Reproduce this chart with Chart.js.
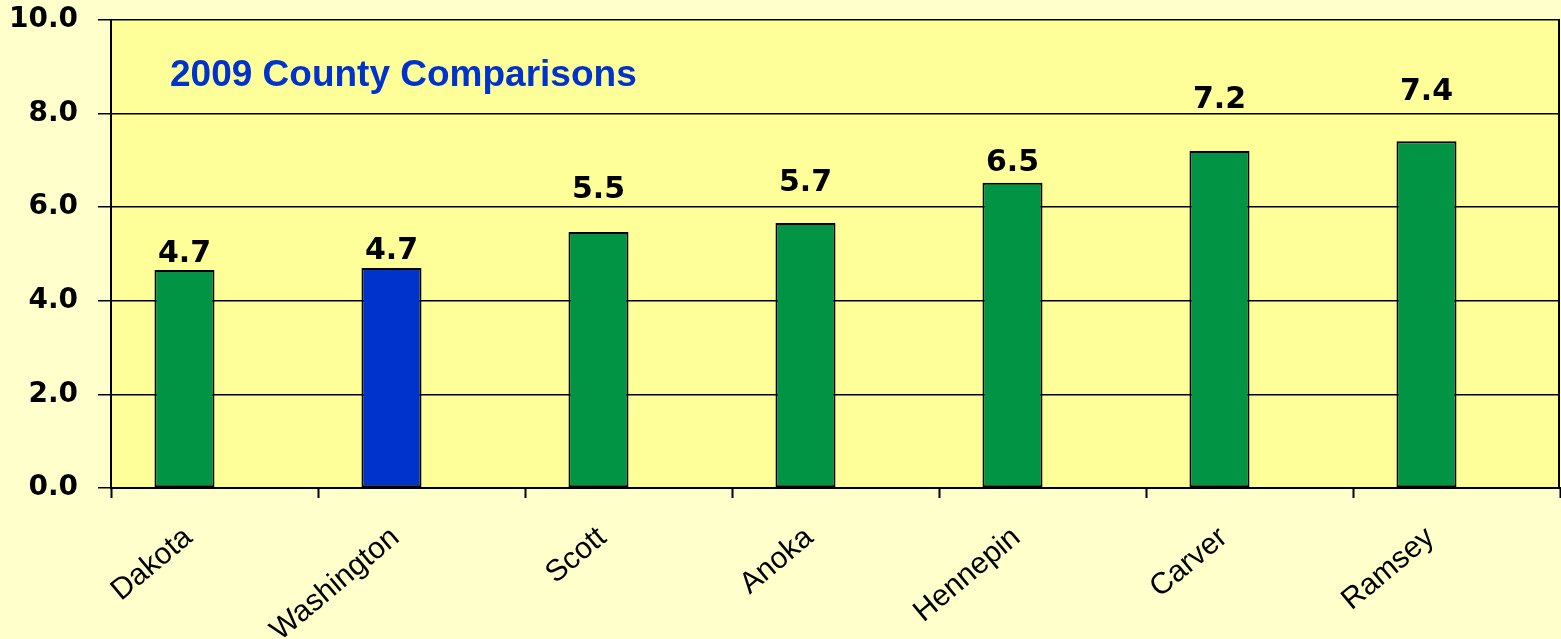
<!DOCTYPE html>
<html>
<head>
<meta charset="utf-8">
<script src="https://cdn.jsdelivr.net/npm/chart.js@4.4.1/dist/chart.umd.min.js"></script>
<style>
  html, body { margin: 0; padding: 0; background: #FFFFCC; }
  #wrap { width: 1561px; height: 639px; position: relative; }
</style>
</head>
<body>
<div id="wrap"><canvas id="countyChart"></canvas></div>
<script>
// 2009 county comparisons
const counties = ['Dakota', 'Washington', 'Scott', 'Anoka', 'Hennepin', 'Carver', 'Ramsey'];
const rates = [4.66, 4.70, 5.47, 5.66, 6.52, 7.20, 7.41];
const yTicks = [0, 2, 4, 6, 8, 10];
const chartTitle = '2009 County Comparisons';
const highlight = 'Washington';

// how far each value label sits above its bar (px)
const labelLift = [16, 17, 42, 40, 20, 51, 49];

const green = '#009444';
const blue = '#0033CC';

const barColors = counties.map(c => c === highlight ? blue : green);

const plotBackground = {
    id: 'plotBackground',
    beforeDraw(chart) {
        const { ctx, chartArea: a } = chart;
        ctx.save();
        ctx.fillStyle = '#FFFF99';
        ctx.fillRect(a.left, a.top, a.right - a.left, a.bottom - a.top);
        ctx.restore();
    },
    afterDraw(chart) {
        const { ctx, chartArea: a } = chart;
        ctx.save();
        // right edge of plot
        ctx.strokeStyle = '#000';
        ctx.lineWidth = 2;
        ctx.beginPath();
        ctx.moveTo(a.right - 1, a.top);
        ctx.lineTo(a.right - 1, a.bottom);
        ctx.stroke();
        // title inside the plot
        ctx.fillStyle = blue;
        ctx.font = 'bold 37px "Liberation Sans", Arial, sans-serif';
        ctx.textAlign = 'left';
        ctx.textBaseline = 'alphabetic';
        ctx.fillText(chartTitle, a.left + 59, a.top + 66);
        ctx.restore();
    }
};

const valueLabels = {
    id: 'valueLabels',
    afterDatasetsDraw(chart) {
        const { ctx } = chart;
        const meta = chart.getDatasetMeta(0);
        ctx.save();
        ctx.fillStyle = '#000';
        ctx.font = 'bold 30px "DejaVu Sans", Verdana, sans-serif';
        ctx.textAlign = 'center';
        ctx.textBaseline = 'middle';
        meta.data.forEach((bar, i) => {
            ctx.fillText(rates[i].toFixed(1), bar.x, bar.y - labelLift[i]);
        });
        ctx.restore();
    }
};

const ctx = document.getElementById('countyChart').getContext('2d');
const chart = new Chart(ctx, {
    type: 'bar',
    data: {
        labels: counties,
        datasets: [{
            label: 'Rate',
            data: rates,
            backgroundColor: barColors,
            borderColor: '#000',
            borderWidth: 2,
            borderSkipped: false,
            categoryPercentage: 0.58,
            barPercentage: 1.0
        }, {
            // empty series: keeps the bars left of centre like the original
            label: '',
            data: counties.map(() => null),
            categoryPercentage: 0.58,
            barPercentage: 1.0
        }]
    },
    options: {
        responsive: true,
        maintainAspectRatio: false,
        animation: false,
        layout: { padding: { top: 20, right: 1, left: 0, bottom: 0 } },
        plugins: {
            legend: { display: false },
            tooltip: { enabled: false },
            title: { display: false }
        },
        scales: {
            x: {
                offset: true,
                grid: {
                    offset: true,
                    drawOnChartArea: false,
                    drawTicks: true,
                    tickLength: 10,
                    tickColor: '#000',
                    tickWidth: 2
                },
                border: { color: '#000', width: 2 },
                ticks: {
                    autoSkip: false,
                    minRotation: 40,
                    maxRotation: 40,
                    padding: 22,
                    labelOffset: -26,
                    color: '#000',
                    font: { family: '"Liberation Sans", Arial, sans-serif', size: 30 }
                },
                afterFit(scale) { scale.height = 151; scale.paddingLeft = 0; scale.paddingRight = 0; }
            },
            y: {
                min: 0,
                max: 10,
                afterBuildTicks(scale) { scale.ticks = yTicks.map(v => ({ value: v })); },
                grid: {
                    color: '#000',
                    lineWidth: 1.5,
                    drawTicks: true,
                    tickLength: 13,
                    tickColor: '#000'
                },
                border: { color: '#000', width: 2 },
                ticks: {
                    padding: 20,
                    color: '#000',
                    font: { family: '"DejaVu Sans", Verdana, sans-serif', size: 28, weight: 'bold' },
                    callback: v => Number(v).toFixed(1)
                },
                afterFit(scale) { scale.width = 111; scale.paddingTop = 0; scale.paddingBottom = 0; }
            }
        }
    },
    plugins: [plotBackground, valueLabels]
});
</script>
</body>
</html>
